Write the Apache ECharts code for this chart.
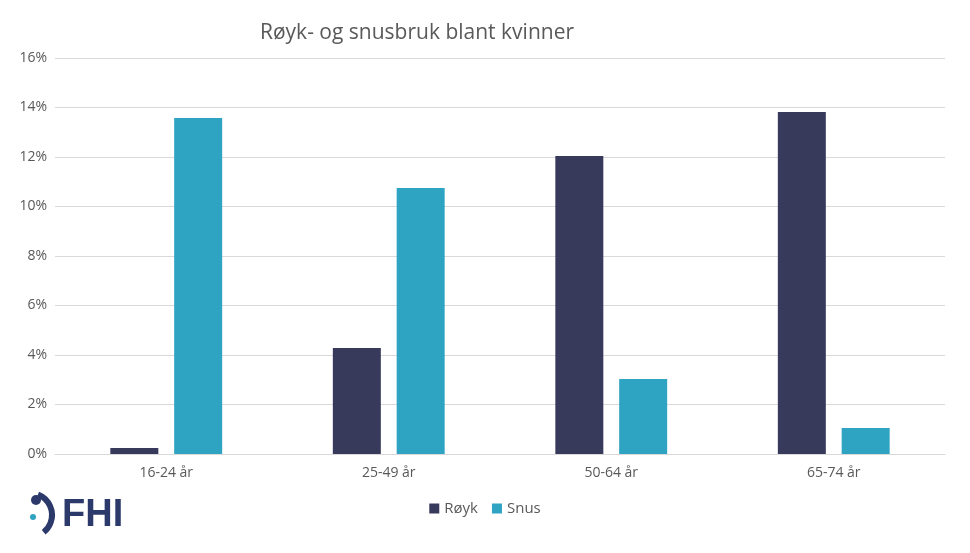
<!DOCTYPE html>
<html><head><meta charset="utf-8">
<script src="https://cdn.jsdelivr.net/npm/echarts@6/dist/echarts.min.js"></script>
<style>html,body{margin:0;padding:0;background:#fff}#c{width:970px;height:553px}</style>
</head><body><div id="c"></div>
<script>
const categories = ['16-24 år','25-49 år','50-64 år','65-74 år'];
const royk = [0.24, 4.28, 12.04, 13.82];
const snus = [13.58, 10.75, 3.03, 1.05];
const chart = echarts.init(document.getElementById('c'));
chart.setOption({
  animation:false,
  textStyle:{fontFamily:'Open Sans, Calibri, sans-serif'},
  title:{text:'Røyk- og snusbruk blant kvinner',left:255,top:18,textStyle:{fontSize:21,fontWeight:'normal',color:'#595959'}},
  legend:{bottom:32,left:'center',icon:'rect',itemWidth:10,itemHeight:10,itemGap:14,textStyle:{fontSize:15,color:'#595959'},data:['Røyk','Snus']},
  grid:{left:55,right:25,top:58,bottom:99,containLabel:false},
  xAxis:{type:'category',data:categories,axisTick:{show:false},axisLine:{lineStyle:{color:'#d9d9d9'}},axisLabel:{fontSize:14,color:'#595959',margin:12}},
  yAxis:{type:'value',min:0,max:16,interval:2,axisLabel:{formatter:'{value}%',fontSize:14,color:'#595959'},splitLine:{lineStyle:{color:'#d9d9d9'}}},
  series:[
    {name:'Røyk',type:'bar',data:royk,itemStyle:{color:'#383A5C'},barWidth:48,barGap:'33%'},
    {name:'Snus',type:'bar',data:snus,itemStyle:{color:'#2EA3C2'},barWidth:48}
  ],
  graphic:[
    {type:'text',left:62,top:497,style:{text:'FHI',fontSize:38,fontWeight:'bold',fill:'#2b3a6b',fontFamily:'Liberation Sans, sans-serif'}},
    {type:'circle',shape:{cx:36,cy:500,r:5},style:{fill:'#2b3a6b'}},
    {type:'arc',shape:{cx:30,cy:515,r:22,startAngle:-1.2,endAngle:0.9},style:{stroke:'#2b3a6b',lineWidth:6,fill:'none'}},
    {type:'circle',shape:{cx:33,cy:517,r:3},style:{fill:'#2EA3C2'}}
  ]
});
</script></body></html>
